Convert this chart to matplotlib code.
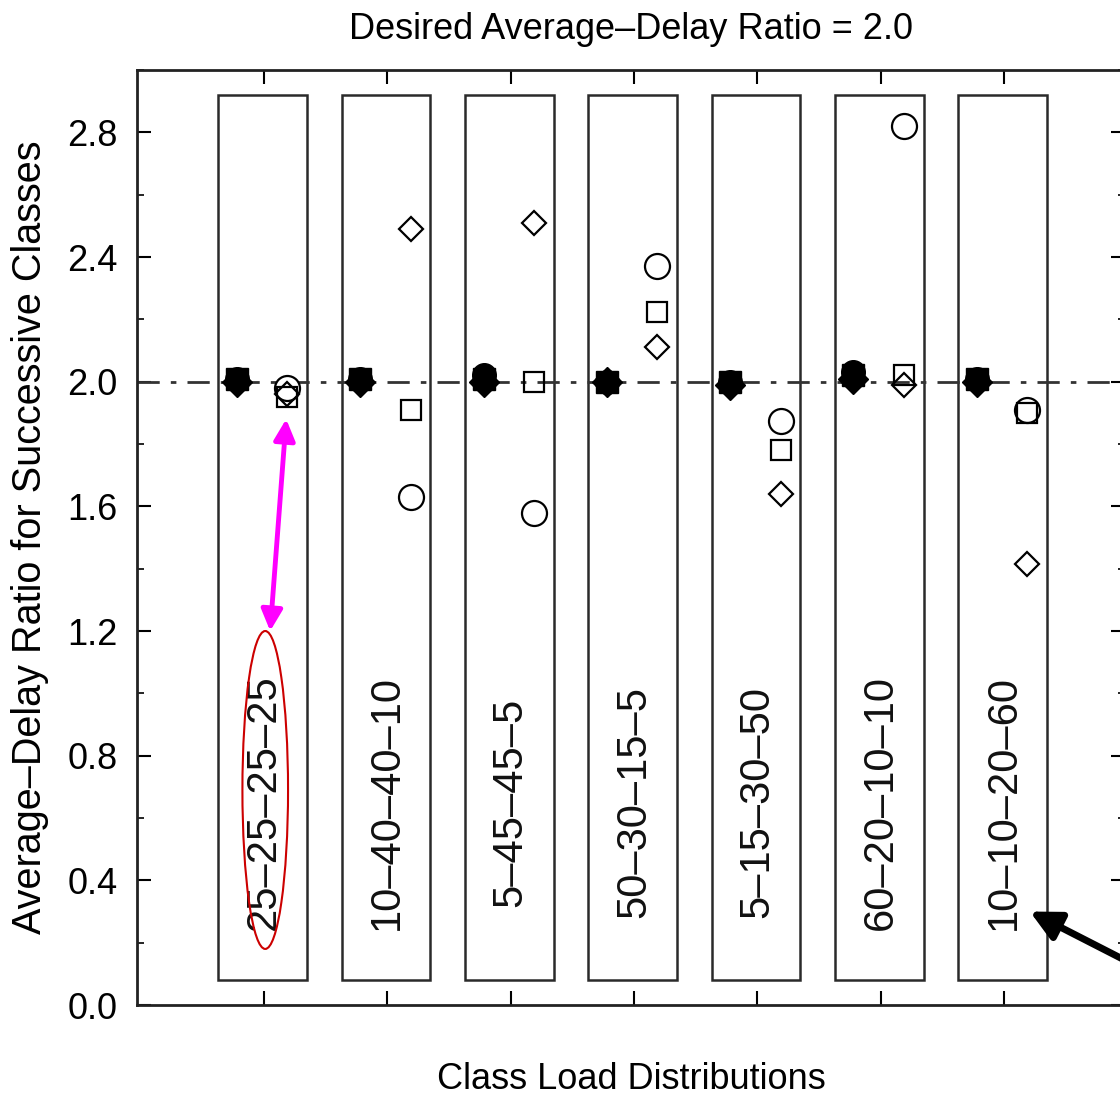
import matplotlib
matplotlib.use('Agg')
import matplotlib.pyplot as plt
from matplotlib.patches import Rectangle, Ellipse
from matplotlib.ticker import MultipleLocator, FormatStrFormatter

plt.rcParams['font.family'] = ['Liberation Sans', 'DejaVu Sans']

# 类别 (负载分布)
categories = ['25–25–25–25', '10–40–40–10', '5–45–45–5', '50–30–15–5',
              '5–15–30–50', '60–20–10–10', '10–10–20–60']

# 实心标记 (几乎都在 2.0)
filled_circle = [2.01, 2.01, 2.02, 2.00, 2.00, 2.03, 2.01]
filled_square = [2.01, 2.01, 2.01, 2.00, 2.00, 2.02, 2.01]
filled_diamond = [2.00, 2.00, 2.00, 2.00, 1.99, 2.01, 2.00]

# 空心标记
open_circle = [1.98, 1.63, 1.58, 2.37, 1.875, 2.82, 1.91]
open_square = [1.95, 1.91, 2.00, 2.225, 1.78, 2.02, 1.90]
open_diamond = [1.96, 2.49, 2.51, 2.11, 1.64, 1.99, 1.415]

target = 2.0

fig = plt.figure(figsize=(11.2, 10.99), dpi=100)
ax = fig.add_axes([0.1223, 0.0855, 0.882, 0.8508])

xs = list(range(1, len(categories) + 1))
edge = '#2a2a2a'

# 每个类别的框
for x, lab in zip(xs, categories):
    ax.add_patch(Rectangle((x - 0.37, 0.08), 0.72, 2.84, fill=False,
                           edgecolor=edge, linewidth=1.8, zorder=1))
    ax.text(x, 0.65, lab, rotation=90, ha='center', va='center',
            fontsize=30, color='#111111', zorder=3)

# 目标线
ax.axhline(target, color='#333333', linewidth=2, linestyle=(0, (8, 4, 2, 4)),
           zorder=2)

xf = [x - 0.22 for x in xs]
xo = [x + 0.19 for x in xs]
ax.plot(xf, filled_diamond, 'D', ms=15, color='black', zorder=4)
ax.plot(xf, filled_square, 's', ms=16, color='black', zorder=4)
ax.plot(xf, filled_circle, 'o', ms=17, color='black', zorder=4)

ax.plot(xo, open_circle, 'o', ms=18, mfc='white', mec='black', mew=1.6, zorder=4)
ax.plot(xo, open_square, 's', ms=14, mfc='none', mec='black', mew=1.6, zorder=5)
ax.plot(xo, open_diamond, 'D', ms=12, mfc='none', mec='black', mew=1.6, zorder=5)

ax.set_xlim(-0.03, 7.98)
ax.set_ylim(0, 3.0)
ax.set_xticks(xs)
ax.set_xticklabels([])
ax.yaxis.set_major_locator(MultipleLocator(0.4))
ax.yaxis.set_minor_locator(MultipleLocator(0.2))
ax.yaxis.set_major_formatter(FormatStrFormatter('%.1f'))
ax.tick_params(axis='both', which='major', direction='in', length=10, width=1.5,
               top=True, right=True, labelsize=26, pad=14)
ax.tick_params(axis='y', which='minor', direction='in', length=5, width=1.2,
               right=True)
for sp in ax.spines.values():
    sp.set_linewidth(2)
    sp.set_color('#222222')

ax.set_title('Desired Average–Delay Ratio = 2.0', fontsize=26, pad=22)
ax.set_xlabel('Class Load Distributions', fontsize=26)
ax.xaxis.set_label_coords(0.5, -0.08)
ax.xaxis.label.set_va('center')
ax.set_ylabel('Average–Delay Ratio for Successive Classes', fontsize=28.5)
ax.yaxis.set_label_coords(-0.108, 0.5)
ax.yaxis.label.set_va('center')

# 标注
ax.annotate('', xy=(1.05, 1.20), xytext=(1.18, 1.88),
            arrowprops=dict(arrowstyle='<|-|>', color='#ff00ff', lw=3.5,
                            mutation_scale=32, shrinkA=0, shrinkB=0))
ax.add_patch(Ellipse((1.01, 0.69), 0.37, 1.02, fill=False,
                     edgecolor='#cc0000', linewidth=1.5, zorder=6))
ax.annotate('', xy=(7.21, 0.30), xytext=(8.0, 0.14),
            arrowprops=dict(arrowstyle='-|>', color='black', lw=5,
                            mutation_scale=45, shrinkA=0, shrinkB=0),
            annotation_clip=False)

fig.savefig('out.png', dpi=100)
